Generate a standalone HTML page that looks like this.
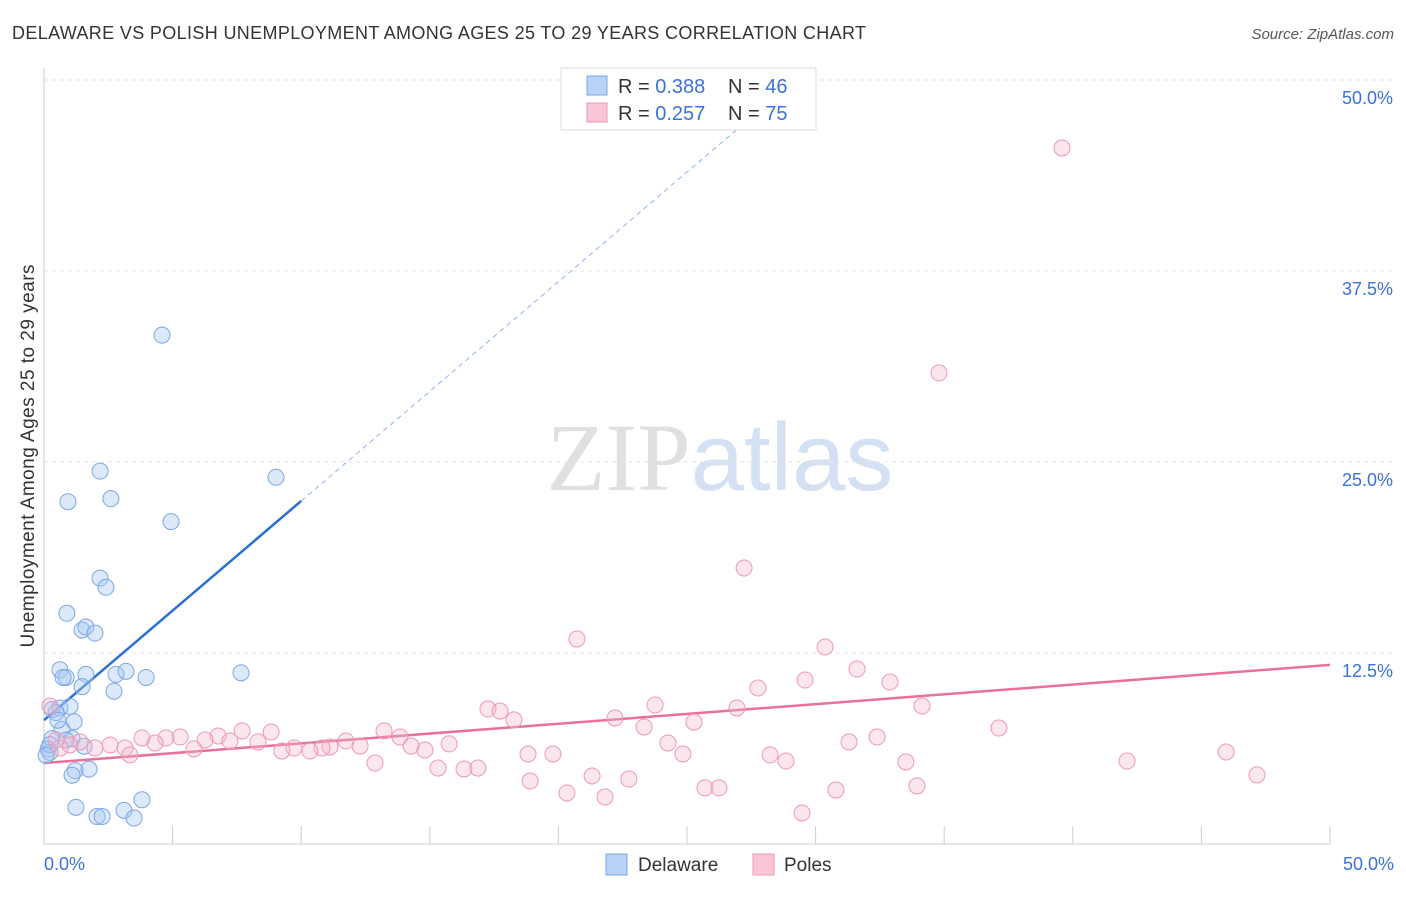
<!DOCTYPE html>
<html><head><meta charset="utf-8">
<style>
body{margin:0;background:#fff;font-family:"Liberation Sans",sans-serif;}
svg text{font-family:"Liberation Sans",sans-serif;}
</style></head>
<body>
<svg id="chart" width="1406" height="892" xmlns="http://www.w3.org/2000/svg">
<text x="12" y="39" font-size="18" fill="#333" textLength="854" lengthAdjust="spacing">DELAWARE VS POLISH UNEMPLOYMENT AMONG AGES 25 TO 29 YEARS CORRELATION CHART</text>
<text x="1394" y="39" font-size="15" fill="#555" text-anchor="end" font-style="italic">Source: ZipAtlas.com</text>
<text x="720" y="490" font-size="96" text-anchor="middle"><tspan font-family="Liberation Serif" fill="#e0e0e0">ZIP</tspan><tspan fill="#d4e1f2">atlas</tspan></text>
<text transform="translate(34,456) rotate(-90)" font-size="19" fill="#333" text-anchor="middle" textLength="383" lengthAdjust="spacing">Unemployment Among Ages 25 to 29 years</text>
<g id="grid"></g><g id="axes"></g><g id="lines"></g><g id="points"></g>
<g>
<rect x="561" y="68" width="255" height="62" fill="#fff" stroke="#ddd"/>
<rect x="587" y="76" width="20" height="19" fill="#b8d3f5" stroke="#7aa6e6"/>
<text x="618" y="93" font-size="20" fill="#333">R = <tspan fill="#3a72d8">0.388</tspan></text>
<text x="728" y="93" font-size="20" fill="#333">N = <tspan fill="#3a72d8">46</tspan></text>
<rect x="587" y="103" width="20" height="19" fill="#f8c6d6" stroke="#ec98b4"/>
<text x="618" y="120" font-size="20" fill="#333">R = <tspan fill="#3a72d8">0.257</tspan></text>
<text x="728" y="120" font-size="20" fill="#333">N = <tspan fill="#3a72d8">75</tspan></text>
</g>
<g>
<rect x="606" y="854" width="21" height="21" fill="#b8d3f5" stroke="#7aa6e6"/>
<text x="638" y="871" font-size="19" fill="#333">Delaware</text>
<rect x="753" y="854" width="21" height="21" fill="#f8c6d6" stroke="#ec98b4"/>
<text x="784" y="871" font-size="19" fill="#333">Poles</text>
</g>
</svg>
<script>
const yTicks=[12.5,25,37.5,50];
const yTickLabels=["12.5%","25.0%","37.5%","50.0%"];
const xTickVals=[0,5,10,15,20,25,30,35,40,45,50];
const delX=[4.59,2.18,9.02,0.93,2.60,4.94,2.18,2.41,0.89,1.48,1.63,1.98,0.62,1.63,0.86,0.74,2.80,3.19,3.97,7.66,1.48,2.72,0.31,0.62,1.01,0.47,1.17,0.70,1.09,0.31,1.56,0.16,0.23,1.21,1.09,1.75,1.24,3.81,3.11,2.06,2.26,3.50,0.23,0.54,0.86,0.08];
const delY=[33.3,24.4,24.0,22.4,22.6,21.1,17.4,16.8,15.1,14.0,14.2,13.8,11.4,11.1,10.9,10.9,11.1,11.3,10.9,11.2,10.3,10.0,8.8,8.9,9.0,8.6,8.0,7.5,6.9,6.9,6.4,6.2,6.0,4.8,4.5,4.9,2.4,2.9,2.2,1.8,1.8,1.7,6.5,8.1,6.8,5.8];
const polX=[39.58,34.80,27.22,20.72,30.37,31.61,29.59,32.89,27.76,23.76,34.14,26.94,17.26,17.73,18.27,22.20,25.27,23.33,37.13,7.70,6.77,8.83,13.22,13.84,5.29,4.74,3.81,6.26,7.23,8.32,11.74,12.29,11.12,15.75,9.72,10.81,9.25,10.34,14.27,14.81,24.26,31.30,32.39,5.83,4.32,2.57,1.98,3.15,1.40,0.62,1.01,3.34,18.82,19.79,24.84,28.23,28.85,42.11,12.87,33.51,15.32,16.33,16.87,21.31,22.74,47.16,18.90,20.33,21.81,25.70,26.24,30.79,33.94,29.47,0.23,0.47,45.96];
const polY=[45.55,30.83,18.06,13.42,12.89,11.45,10.73,10.60,10.21,9.10,9.03,8.90,8.84,8.70,8.12,8.25,7.98,7.66,7.59,7.40,7.07,7.33,7.40,7.00,7.00,6.94,6.94,6.81,6.74,6.68,6.74,6.41,6.35,6.55,6.28,6.28,6.09,6.09,6.41,6.15,6.61,6.68,7.00,6.22,6.61,6.48,6.28,6.28,6.68,6.28,6.48,5.83,5.89,5.89,5.89,5.83,5.43,5.43,5.30,5.37,4.97,4.91,4.97,4.45,4.25,4.52,4.12,3.34,3.08,3.67,3.67,3.53,3.80,2.03,9.03,6.81,6.02];
const delTrend=[8.1,22.45];
const polTrend=[5.30,11.72];
const NS="http://www.w3.org/2000/svg";
const X=v=>44+v/50*1286, Y=v=>844-v/12.5*191;
function mk(tag,attrs,parent){const e=document.createElementNS(NS,tag);for(const k in attrs)e.setAttribute(k,attrs[k]);document.getElementById(parent).appendChild(e);return e;}
yTicks.forEach((t,i)=>{
 const l=mk('line',{x1:44,x2:1394,y1:Y(t),y2:Y(t),stroke:'#e6e6e6','stroke-dasharray':'4,4'},'grid');
 
 
 const tx=mk('text',{x:1393,y:Y(t)+24,'font-size':18,fill:'#3a72d8','text-anchor':'end'},'grid');
 tx.textContent=yTickLabels[i];
 
 
});
const ax=mk('line',{x1:44,x2:1330,y1:844,y2:844,stroke:'#ccc'},'axes');


const ay=mk('line',{x1:44,x2:44,y1:68,y2:844,stroke:'#ccc'},'axes');


xTickVals.forEach(t=>{
 const l=mk('line',{x1:X(t),x2:X(t),y1:826,y2:844,stroke:'#ccc'},'axes');
 
 
});
[[0,'0.0%','start',44],[50,'50.0%','end',1394]].forEach(a=>{
 const t=mk('text',{x:a[3],y:870,'font-size':18,fill:'#3a72d8','text-anchor':a[2]},'axes');
 t.textContent=a[1];
 
 
});
delX.forEach((v,i)=>{
 const c=mk('circle',{cx:X(v),cy:Y(delY[i]),r:8,fill:'rgba(168,200,240,0.4)',stroke:'#7aa6e6','stroke-width':1},'points');
 
 
});
polX.forEach((v,i)=>{
 const c=mk('circle',{cx:X(v),cy:Y(polY[i]),r:8,fill:'rgba(244,184,204,0.35)',stroke:'#ec98b4','stroke-width':1},'points');
 
 
});
const slope=(delTrend[1]-delTrend[0])/10;
const bl=mk('line',{x1:X(0),y1:Y(delTrend[0]),x2:X(10),y2:Y(delTrend[1]),stroke:'#2a6fd6','stroke-width':2.5},'lines');


const bd=mk('line',{x1:X(10),y1:Y(delTrend[1]),x2:X(27.1),y2:Y(delTrend[0]+slope*27.1),stroke:'#8fb4ea','stroke-width':1,'stroke-dasharray':'5,4'},'lines');


const pl=mk('line',{x1:X(0),y1:Y(polTrend[0]),x2:X(50),y2:Y(polTrend[1]),stroke:'#e8709a','stroke-width':2.5},'lines');


</script>
</body></html>
